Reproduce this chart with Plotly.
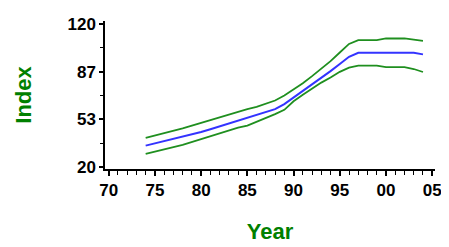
import plotly.graph_objects as go

years = list(range(1974, 2005))
index_mid = [35.0, 36.5, 38.0, 39.5, 41.0, 43.0, 44.5, 46.5, 48.5, 50.5, 52.5, 54.5,
             56.5, 58.0, 60.5, 64.0, 68.5, 73.5, 78.0, 82.5, 87.0, 92.0, 97.0, 99.8,
             99.8, 99.8, 99.8, 99.8, 99.8, 99.8, 98.7]
index_upper = [40.5, 42.0, 43.5, 45.0, 47.0, 49.0, 51.0, 53.0, 55.0, 57.0, 58.5, 60.5,
               62.0, 64.0, 66.5, 70.0, 74.0, 78.5, 83.5, 88.5, 94.0, 100.0, 106.0, 108.7,
               108.7, 108.7, 109.8, 109.8, 109.8, 109.0, 108.2]
index_lower = [29.3, 31.0, 32.5, 34.0, 35.5, 37.5, 39.5, 42.0, 44.0, 46.0, 47.5, 49.0,
               51.5, 54.0, 57.0, 60.0, 66.0, 70.5, 75.0, 79.0, 82.5, 86.5, 89.5, 90.9,
               90.9, 90.9, 89.8, 89.8, 89.8, 88.5, 86.4]

x_tickvals = [1970, 1975, 1980, 1985, 1990, 1995, 2000, 2005]
x_ticktext = ["70", "75", "80", "85", "90", "95", "00", "05"]
y_tickvals = [20, 53.333, 86.667, 120]
y_ticktext = ["20", "53", "87", "120"]

GREEN = "#1f8f1f"
BLUE = "#3333ff"

fig = go.Figure()
fig.add_trace(go.Scatter(x=years, y=index_upper, mode="lines",
                         line=dict(color=GREEN, width=1.8), showlegend=False))
fig.add_trace(go.Scatter(x=years, y=index_lower, mode="lines",
                         line=dict(color=GREEN, width=1.8), showlegend=False))
fig.add_trace(go.Scatter(x=years, y=index_mid, mode="lines",
                         line=dict(color=BLUE, width=2), showlegend=False))

tickfont = dict(family="Liberation Sans", size=17, color="black", weight="bold")
titlefont = dict(family="Liberation Sans", size=22, color="#008000", weight="bold")

# The page body has an 8px default margin, so the figure is sized/offset to compensate.
fig.update_layout(
    width=441, height=239,
    margin=dict(l=97, r=11, t=7, b=77),
    paper_bgcolor="white", plot_bgcolor="white",
    xaxis=dict(
        range=[1969.6, 2005.3], tickmode="array", tickvals=x_tickvals, ticktext=x_ticktext,
        showgrid=False, zeroline=False, showline=True, linecolor="black", linewidth=1.5,
        ticks="outside", ticklen=5, tickwidth=1.5, tickcolor="black", tickfont=tickfont,
        minor=dict(dtick=1, tick0=1970, ticks="outside", ticklen=4, tickwidth=1.2, tickcolor="black"),
        title=dict(text="Year", font=titlefont, standoff=24),
    ),
    yaxis=dict(
        range=[18.7, 122], tickmode="array", tickvals=y_tickvals, ticktext=y_ticktext,
        showgrid=False, zeroline=False, showline=True, linecolor="black", linewidth=1.5,
        ticks="outside", ticklen=4, tickwidth=1.5, tickcolor="black", tickfont=tickfont,
        minor=dict(tickvals=[36.667, 70, 103.333], ticks="outside", ticklen=3, tickwidth=1.2, tickcolor="black"),
        title=dict(text="Index", font=titlefont, standoff=30),
    ),
)

fig.write_html("out.html")
